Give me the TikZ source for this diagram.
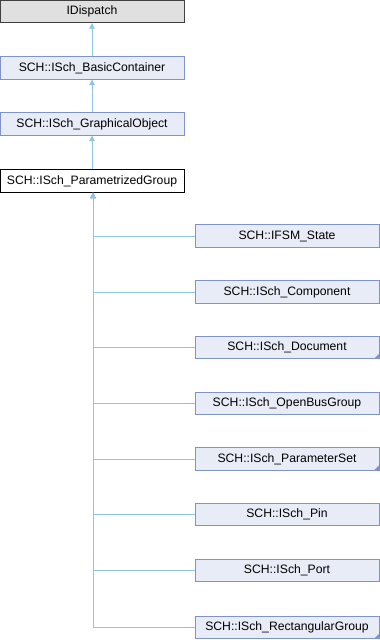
\documentclass[tikz,border=0pt]{standalone}
\usepackage{fontspec}
\setmainfont{Liberation Sans}
\usetikzlibrary{arrows.meta}
\definecolor{boxfill}{HTML}{E8ECF6}
\definecolor{boxdraw}{HTML}{7F93C8}
\definecolor{edgecol}{HTML}{8EC5E6}
\definecolor{graybox}{HTML}{E0E0E0}
\tikzset{
  cls/.style={draw=boxdraw, fill=boxfill, line width=0.9pt, minimum width=184pt, minimum height=22.5pt, inner sep=0pt, font=\fontsize{12.2}{14}\selectfont},
  rootcls/.style={cls, draw=black!75, fill=graybox},
  curcls/.style={cls, draw=black, fill=white},
  edge/.style={draw=edgecol, line width=0.9pt, -{Triangle[width=5.5pt,length=5.5pt]}}
}
\newcommand{\cornermark}[1]{\fill[boxdraw] ([shift={(-0.4pt,0.4pt)}]#1.south east) -- ++(-5pt,0) -- ++(5pt,5pt) -- cycle;}
\begin{document}
\begin{tikzpicture}[x=1pt,y=-1pt]
\useasboundingbox (0,0) rectangle (380,640);
\node[rootcls] (idisp) at (92,11.5) {IDispatch};
\node[cls] (basic) at (92,68) {SCH::ISch\_BasicContainer};
\node[cls] (graph) at (92,124) {SCH::ISch\_GraphicalObject};
\node[curcls] (param) at (92,181) {SCH::ISch\_ParametrizedGroup};
\node[cls] (c1) at (287,236) {SCH::IFSM\_State};
\node[cls] (c2) at (287,292) {SCH::ISch\_Component};
\node[cls] (c3) at (287,347.5) {SCH::ISch\_Document};
\node[cls] (c4) at (287,403.5) {SCH::ISch\_OpenBusGroup};
\node[cls] (c5) at (287,459) {SCH::ISch\_ParameterSet};
\node[cls] (c6) at (287,514.5) {SCH::ISch\_Pin};
\node[cls] (c7) at (287,570.5) {SCH::ISch\_Port};
\node[cls] (c8) at (287,627.5) {SCH::ISch\_RectangularGroup};
\cornermark{c3}
\cornermark{c5}
\cornermark{c8}
\draw[edge] (basic.north) -- (idisp.south);
\draw[edge] (graph.north) -- (basic.south);
\draw[edge] (param.north) -- (graph.south);
\foreach \c in {c1,c2,c3,c4,c5,c6,c7,c8}{
  \draw[edge] (\c.west) -- ([xshift=1pt]\c.west -| param.south) -- ([xshift=1pt]param.south);
}
\end{tikzpicture}
\end{document}
